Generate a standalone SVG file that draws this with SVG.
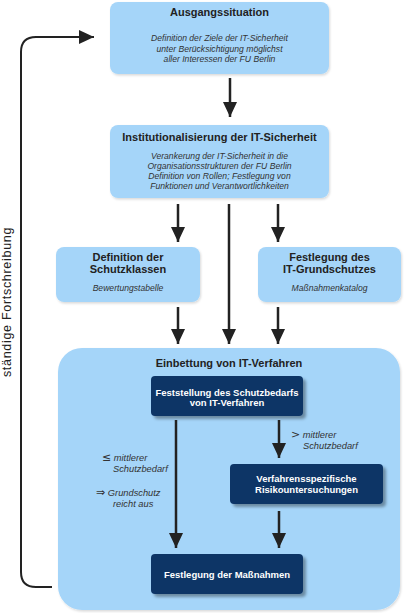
<svg xmlns="http://www.w3.org/2000/svg" width="404" height="613" viewBox="0 0 404 613">
<defs>
<style>
.light{fill:#a5d5f9;}
.dark{fill:#0a3466;}
.t{font-family:"Liberation Sans",Arial,sans-serif;text-anchor:middle;}
.title{font-size:11px;font-weight:bold;fill:#222;}
.it{font-size:8.6px;font-style:italic;fill:#333;}
.wt{font-size:9.5px;font-weight:bold;fill:#fff;}
.lab{font-family:"Liberation Sans",Arial,sans-serif;font-size:9.3px;font-style:italic;fill:#333;}
.sym{font-family:"DejaVu Sans","Liberation Sans",sans-serif;font-size:11px;font-style:normal;fill:#333;}
.ln{fill:none;stroke:#222;stroke-width:2.5;}
</style>
<marker id="ah" markerUnits="userSpaceOnUse" markerWidth="16" markerHeight="14" refX="15" refY="7" orient="auto">
<path d="M0,0 L15,7 L0,14 z" fill="#222"/>
</marker>
<filter id="sh" x="-10%" y="-20%" width="130%" height="150%">
<feDropShadow dx="3" dy="3" stdDeviation="1.5" flood-color="#000" flood-opacity="0.35"/>
</filter>
<filter id="sl" x="-10%" y="-20%" width="130%" height="150%">
<feDropShadow dx="1" dy="1.5" stdDeviation="1" flood-color="#000" flood-opacity="0.15"/>
</filter>
</defs>
<rect width="404" height="613" fill="#fff"/>

<g id="embedding">
<rect class="light" x="58" y="348" width="342" height="262" rx="24" filter="url(#sl)"/>
<text class="t title" x="229" y="367">Einbettung von IT-Verfahren</text>
</g>

<g id="ausgangssituation">
<rect class="light" x="110" y="2" width="219" height="72" rx="8" filter="url(#sl)"/>
<text class="t title" x="219.5" y="16">Ausgangssituation</text>
<text class="t it" x="219.5" y="41">Definition der Ziele der IT-Sicherheit</text>
<text class="t it" x="219.5" y="51.5">unter Berücksichtigung möglichst</text>
<text class="t it" x="219.5" y="62">aller Interessen der FU Berlin</text>
</g>

<g id="institutionalisierung">
<rect class="light" x="110" y="125" width="219" height="73" rx="8" filter="url(#sl)"/>
<text class="t title" x="219.5" y="141">Institutionalisierung der IT-Sicherheit</text>
<text class="t it" x="219.5" y="159">Verankerung der IT-Sicherheit in die</text>
<text class="t it" x="219.5" y="169">Organisationsstrukturen der FU Berlin</text>
<text class="t it" x="219.5" y="179">Definition von Rollen; Festlegung von</text>
<text class="t it" x="219.5" y="189">Funktionen und Verantwortlichkeiten</text>
</g>

<g id="schutzklassen">
<rect class="light" x="56" y="247" width="144" height="55" rx="8" filter="url(#sl)"/>
<text class="t title" x="128" y="261">Definition der</text>
<text class="t title" x="128" y="273">Schutzklassen</text>
<text class="t it" x="128" y="290.5">Bewertungstabelle</text>
</g>

<g id="grundschutz">
<rect class="light" x="258" y="247" width="143" height="55" rx="8" filter="url(#sl)"/>
<text class="t title" x="329.5" y="261">Festlegung des</text>
<text class="t title" x="329.5" y="273">IT-Grundschutzes</text>
<text class="t it" x="329.5" y="290.5">Maßnahmenkatalog</text>
</g>

<g id="feststellung">
<rect class="dark" x="151" y="376" width="152" height="40" rx="4" filter="url(#sh)"/>
<text class="t wt" x="227" y="395.5">Feststellung des Schutzbedarfs</text>
<text class="t wt" x="227" y="406">von IT-Verfahren</text>
</g>

<g id="risiko">
<rect class="dark" x="230" y="464" width="153" height="40" rx="4" filter="url(#sh)"/>
<text class="t wt" x="306.5" y="481.5">Verfahrensspezifische</text>
<text class="t wt" x="306.5" y="492.5">Risikountersuchungen</text>
</g>

<g id="massnahmen">
<rect class="dark" x="151" y="554" width="152" height="40" rx="4" filter="url(#sh)"/>
<text class="t wt" x="227" y="577.5">Festlegung der Maßnahmen</text>
</g>

<g id="labels">
<text class="lab" x="291" y="438"><tspan class="sym">&gt;</tspan> mittlerer</text>
<text class="lab" x="303" y="449">Schutzbedarf</text>
<text class="lab" x="102" y="461"><tspan class="sym">≤</tspan> mittlerer</text>
<text class="lab" x="113" y="472">Schutzbedarf</text>
<text class="lab" x="96" y="496"><tspan class="sym" font-size="13">⇒</tspan> Grundschutz</text>
<text class="lab" x="113" y="507">reicht aus</text>
<text font-family="'Liberation Sans',Arial,sans-serif" font-size="12.5" letter-spacing="0.7" fill="#222" text-anchor="middle" transform="translate(11,302) rotate(-90)">ständige Fortschreibung</text>
</g>

<g id="connectors">
<line class="ln" x1="230" y1="78" x2="230" y2="117" marker-end="url(#ah)"/>
<line class="ln" x1="178" y1="204" x2="178" y2="242" marker-end="url(#ah)"/>
<line class="ln" x1="278" y1="204" x2="278" y2="242" marker-end="url(#ah)"/>
<line class="ln" x1="229" y1="204" x2="229" y2="344" marker-end="url(#ah)"/>
<line class="ln" x1="178" y1="307" x2="178" y2="344" marker-end="url(#ah)"/>
<line class="ln" x1="278" y1="307" x2="278" y2="344" marker-end="url(#ah)"/>
<line class="ln" x1="176" y1="420" x2="176" y2="548" marker-end="url(#ah)"/>
<line class="ln" x1="279" y1="420" x2="279" y2="458" marker-end="url(#ah)"/>
<line class="ln" x1="279" y1="511" x2="279" y2="548" marker-end="url(#ah)"/>
<path class="ln" style="stroke-width:2" d="M52,587 H36 Q21,587 21,572 V52 Q21,37 36,37 H94" marker-end="url(#ah)"/>
</g>
</svg>
